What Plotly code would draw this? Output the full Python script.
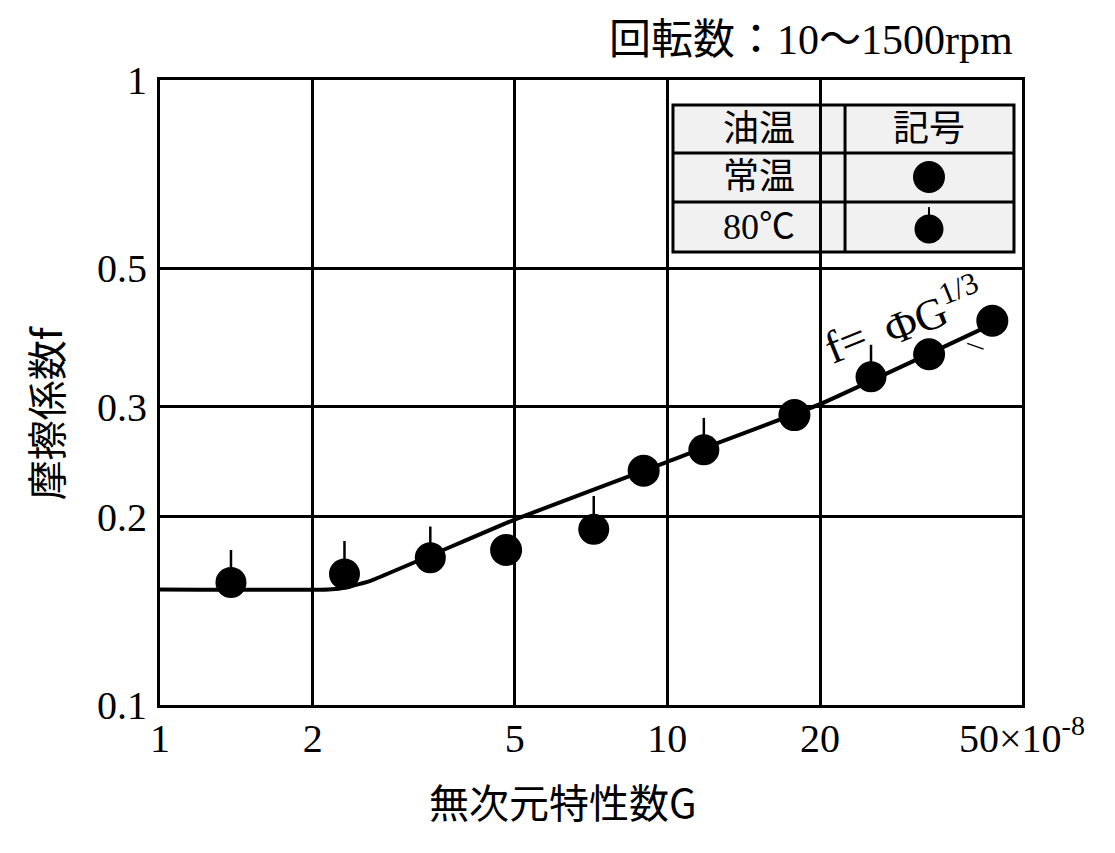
from plotly import graph_objs as go

# readings from the reference (G in units of 1e-8)
room_g = [4.81, 8.98, 17.8, 32.8, 43.7]
room_f = [0.177, 0.237, 0.291, 0.364, 0.412]

hot_g = [1.38, 2.31, 3.41, 7.16, 11.8, 25.2]
hot_f = [0.157, 0.162, 0.172, 0.191, 0.256, 0.335]
hot_tick_top = [0.177, 0.183, 0.193, 0.216, 0.288, 0.377]

curve_g = [1, 2.15, 2.35, 2.6, 5, 10, 20, 44]
curve_f = [0.153, 0.153, 0.1545, 0.158, 0.198, 0.245, 0.303, 0.408]

leader_g = [39.0, 42.0]
leader_f = [0.379, 0.371]

x_ticks = [1, 2, 5, 10, 20, 50]
x_ticktext = ['1', '2', '5', '10', '20', '50×10<sup>-8</sup>']
y_ticks = [0.1, 0.2, 0.3, 0.5, 1]
y_ticktext = ['0.1', '0.2', '0.3', '0.5', '1']

SERIF = 'Liberation Serif, Noto Sans CJK JP'
GOTHIC = 'Noto Sans CJK JP'

fig = go.Figure()

fig.add_trace(go.Scatter(x=curve_g, y=curve_f, mode='lines', line_shape='spline',
                         line=dict(color='black', width=4, smoothing=0.3), showlegend=False))
fig.add_trace(go.Scatter(x=leader_g, y=leader_f, mode='lines',
                         line=dict(color='black', width=1.5), showlegend=False))

# 80C: dot with a short vertical tick above it
fig.add_trace(go.Scatter(
    x=hot_g, y=hot_f, mode='markers',
    marker=dict(color='black', size=31),
    error_y=dict(type='data', symmetric=False,
                 array=[t - f for t, f in zip(hot_tick_top, hot_f)],
                 arrayminus=[0] * len(hot_f),
                 width=0, thickness=2.5, color='black'),
    showlegend=False))
fig.add_trace(go.Scatter(x=room_g, y=room_f, mode='markers',
                         marker=dict(color='black', size=32), showlegend=False))

# legend table drawn by hand (paper coords)
tx0, tx1, tcol = 0.5951, 0.9907, 0.7947
ty0, ty1, trow1, trow2 = 0.7248, 0.96, 0.8832, 0.8048
shapes = [
    dict(type='rect', xref='paper', yref='paper', x0=tx0, x1=tx1, y0=ty0, y1=ty1,
         fillcolor='#f1f1f1', line=dict(color='black', width=3), layer='between'),
    dict(type='line', xref='paper', yref='paper', x0=tcol, x1=tcol, y0=ty0, y1=ty1,
         line=dict(color='black', width=3), layer='between'),
    dict(type='line', xref='paper', yref='paper', x0=tx0, x1=tx1, y0=trow1, y1=trow1,
         line=dict(color='black', width=3), layer='between'),
    dict(type='line', xref='paper', yref='paper', x0=tx0, x1=tx1, y0=trow2, y1=trow2,
         line=dict(color='black', width=3), layer='between'),
]

# legend symbols on an overlay axis in 0..1 units
fig.add_trace(go.Scatter(x=[0.8921], y=[0.8448], mode='markers', xaxis='x2', yaxis='y2',
                         marker=dict(color='black', size=32), showlegend=False))
fig.add_trace(go.Scatter(x=[0.8921], y=[0.7616], mode='markers', xaxis='x2', yaxis='y2',
                         marker=dict(color='black', size=29),
                         error_y=dict(type='data', symmetric=False, array=[0.035], arrayminus=[0],
                                      width=0, thickness=2, color='black'),
                         showlegend=False))

cells = [
    ('油温', 0.6949, 0.9216), ('記号', 0.8921, 0.9216),
    ('常温', 0.6949, 0.8448), ('80℃', 0.6949, 0.7648),
]
annotations = [dict(text=t, x=x, y=y, xref='paper', yref='paper', showarrow=False,
                    xanchor='center', yanchor='middle',
                    font=dict(family=SERIF, size=36, color='black')) for t, x, y in cells]

annotations += [
    dict(text='回転数：10～1500rpm', x=0.9919, y=1.064, xref='paper', yref='paper',
         showarrow=False, xanchor='right', yanchor='middle',
         font=dict(family=SERIF, size=42, color='black')),
    dict(text='無次元特性数G', x=0.4675, y=-0.1536, xref='paper', yref='paper',
         showarrow=False, xanchor='center', yanchor='middle',
         font=dict(family=GOTHIC, size=40, color='black')),
    dict(text='摩擦係数f', x=-0.1334, y=0.467, xref='paper', yref='paper', textangle=-90,
         showarrow=False, xanchor='center', yanchor='middle',
         font=dict(family=GOTHIC, size=40, color='black')),
    # curve label, split in two so the "=" sits left of the nearby tick
    dict(text='f=', x=0.7947, y=0.5808, xref='paper', yref='paper',
         textangle=-22, showarrow=False, xanchor='center', yanchor='middle',
         font=dict(family=SERIF, size=46, color='black')),
    dict(text='ΦG<sup>1/3</sup>', x=0.8956, y=0.632, xref='paper', yref='paper',
         textangle=-22, showarrow=False, xanchor='center', yanchor='middle',
         font=dict(family=SERIF, size=44, color='black')),
]

fig.update_layout(
    width=1107, height=845,
    margin=dict(l=152, r=93, t=72, b=148, autoexpand=False),
    plot_bgcolor='white', paper_bgcolor='white',
    showlegend=False,
    xaxis=dict(type='log', range=[0, 1.69897], tickvals=x_ticks, ticktext=x_ticktext,
               showgrid=True, gridcolor='black', gridwidth=2.5, zeroline=False,
               showline=True, linecolor='black', linewidth=3, mirror=True,
               ticks='', ticklabelstandoff=-4,
               tickfont=dict(family=SERIF, size=40, color='black')),
    yaxis=dict(type='log', range=[-1, 0], tickvals=y_ticks, ticktext=y_ticktext,
               showgrid=True, gridcolor='black', gridwidth=2.5, zeroline=False,
               showline=True, linecolor='black', linewidth=3, mirror=True,
               ticks='', ticklabelstandoff=2,
               tickfont=dict(family=SERIF, size=40, color='black')),
    xaxis2=dict(overlaying='x', range=[0, 1], visible=False, fixedrange=True),
    yaxis2=dict(overlaying='y', range=[0, 1], visible=False, fixedrange=True),
    shapes=shapes,
    annotations=annotations,
)

fig.write_html("out.html")
